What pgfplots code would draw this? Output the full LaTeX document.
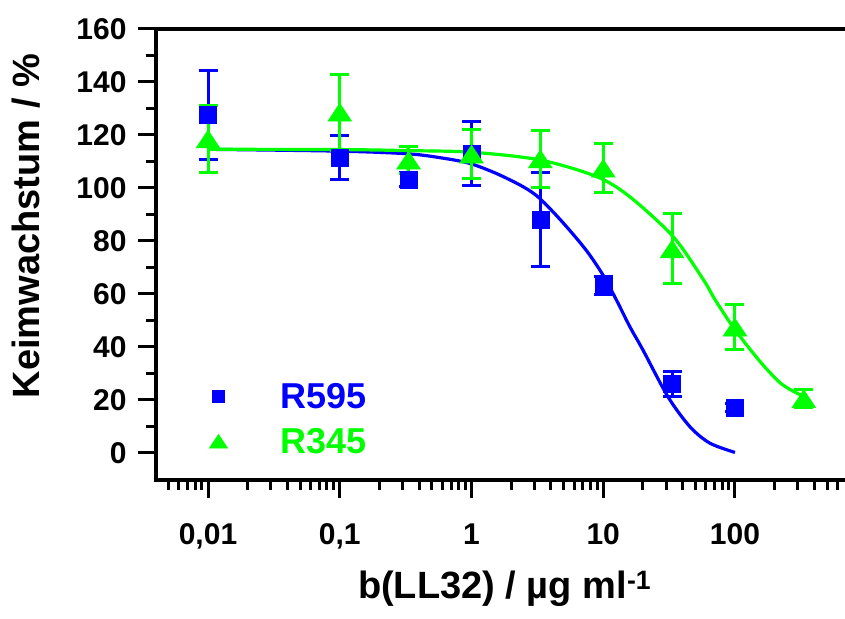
\documentclass[border=0pt]{standalone}
\usepackage{fontspec}
\setmainfont{Liberation Sans}
\usepackage{pgfplots}
\pgfplotsset{compat=1.18}
\definecolor{cblue}{RGB}{0,0,255}
\definecolor{cgreen}{RGB}{0,255,0}
\pgfplotsset{markonly legend/.style={legend image code/.code={\path[draw=none,fill=none] (-9pt,0pt) -- (62pt,0pt);\draw[##1, /tikz/only marks] plot coordinates {(0pt,0pt)};}}}
\begin{document}
\begin{tikzpicture}
\useasboundingbox (-156pt,-138pt) rectangle (689pt,480pt);
\begin{axis}[
  scale only axis, width=689pt, height=451pt,
  xmode=log, xmin=0.004029, xmax=684, ymin=-10.2, ymax=160,
  clip=false,
  axis line style={draw=none},
  xtick={0.01,0.1,1,10,100}, xticklabels={{0,01},{0,1},1,10,100},
  minor xtick={0.005,0.006,0.007,0.008,0.009,0.02,0.03,0.04,0.05,0.06,0.07,0.08,0.09,0.2,0.3,0.4,0.5,0.6,0.7,0.8,0.9,2,3,4,5,6,7,8,9,20,30,40,50,60,70,80,90,200,300,400,500,600},
  ytick={0,20,...,160}, minor y tick num=1,
  xtick pos=left, ytick pos=left, tick align=outside,
  major tick length=18pt, minor tick length=10pt,
  every tick/.style={black, line width=3pt},
  /pgf/number format/assume math mode=true,
  tick label style={font=\fontsize{30}{36}\selectfont\bfseries},
  xticklabel style={yshift=-22pt},
  yticklabel style={xshift=-8pt},
  xlabel={b(LL32) / µg ml\textsuperscript{-1}},
  ylabel={Keimwachstum / \%},
  every axis x label/.style={at={(rel axis cs:0.506,-0.242)}, anchor=center, font=\fontsize{38}{46}\selectfont\bfseries},
  every axis y label/.style={at={(rel axis cs:-0.1887,0.563)}, anchor=center, rotate=90, font=\fontsize{38}{46}\selectfont\bfseries},
  legend style={draw=none, fill=none, inner sep=0pt, at={(rel axis cs:0.0771,0.2149)}, anchor=north west,
    nodes={inner sep=0pt, text depth=0pt}, row sep=20.2pt, column sep=0pt,
    font=\fontsize{36}{43}\selectfont\bfseries},
  legend cell align=left,
]
\draw[line width=3.5pt, line join=miter] (rel axis cs:1,1) -- (rel axis cs:0,1) -- (rel axis cs:0,0) -- (rel axis cs:1,0);
% R595 data
\addplot[cblue, only marks, mark=square*, mark size=8.5pt, forget plot,
  error bars/.cd, y dir=both, y explicit, error bar style={line width=3pt},
  error mark options={line width=3pt, mark size=9.5pt, rotate=90}]
  table[x=x, y=y, y error=e] {
x y e
0.01 127.7 16.8
0.1 111.5 8.2
0.333 103.2 2.8
1 113 12
3.33 88 17.7
10 63.2 3.3
33.3 26 4.8
100 17 1.5
};
\addplot[cblue, line width=3.2pt, smooth, forget plot] coordinates {
(0.01,114.6) (0.1,113.9) (0.33,112.9) (0.6,111.3) (0.966,109.3) (1.54,105.5) (2.46,100.5) (3.29,96.1) (4.95,86.9) (7.45,76.4) (10,67.0) (12.6,57.7) (15.9,47.7) (20,38.9) (31,21.2) (45.5,9.9) (64.5,3.7) (100,0.2)
};
% R345 data
\addplot[cgreen, only marks, mark=triangle*, mark size=12pt, mark options={xscale=1.15, yshift=-3pt}, forget plot,
  error bars/.cd, y dir=both, y explicit, error bar style={line width=3pt},
  error mark options={line width=3pt, mark size=9.5pt, rotate=90, xscale=1, yshift=0pt}]
  table[x=x, y=y, y error=e] {
x y e
0.01 118.5 12.6
0.1 128.6 14.3
0.333 110.5 5
1 112.8 9.1
3.33 111 10.7
10 107.5 9.1
33.3 77 13.2
100 47.5 8.6
333 20.5 3.4
};
\addplot[cgreen, line width=3.2pt, smooth, forget plot] coordinates {
(0.01,114.6) (0.1,114.5) (0.33,114.1) (1,113.5) (3.3,110.6) (8.9,104.3) (15.9,96.7) (34,81.6) (57.4,65.5) (70.5,57.9) (100,46.5) (155,34.5) (220,26.5) (294,22.6) (333,21.6)
};
\addlegendimage{markonly legend, cblue, mark=square*, mark size=6pt}
\addlegendentry{\textcolor{cblue}{R595}}
\addlegendimage{markonly legend, cgreen, mark=triangle*, mark size=9.2pt, mark options={xscale=1.15, yshift=-2.3pt}}
\addlegendentry{\textcolor{cgreen}{R345}}
\end{axis}
\end{tikzpicture}
\end{document}
